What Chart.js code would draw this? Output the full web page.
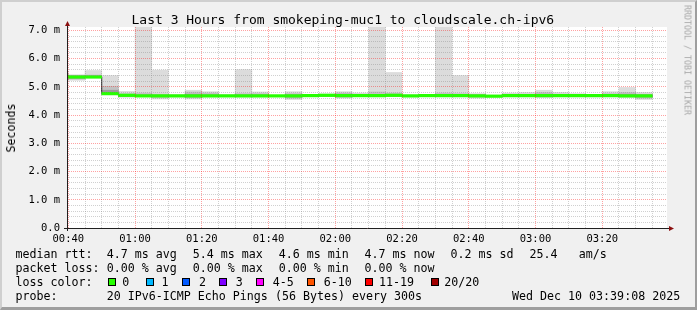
<!DOCTYPE html>
<html>
<head>
<meta charset="utf-8">
<script src="https://cdn.jsdelivr.net/npm/chart.js@4.4.1/dist/chart.umd.min.js"></script>
<style>
  body { margin: 0; width: 697px; height: 310px; overflow: hidden; background: #f0f0f0;
         font-family: 'DejaVu Sans Mono', monospace; color: #000; position: relative; }
  #frame { position: absolute; left: 0; top: 0; width: 697px; height: 310px; box-sizing: border-box;
           border-top: 2px solid #cfcfcf; border-left: 2px solid #cfcfcf;
           border-right: 2px solid #9e9e9e; border-bottom: 3px solid #9e9e9e; }
  #chart { position: absolute; left: 0; top: 0; }
  .t { position: absolute; white-space: pre; font-size: 11.65px; line-height: 14px; }
  #title { position: absolute; left: 131.5px; top: 13px; font-size: 13px; line-height: 13px; white-space: pre; }
  #ylabel { position: absolute; left: 10.5px; top: 127.5px; font-size: 11.65px; line-height: 14px;
            transform: translate(-50%, -50%) rotate(-90deg); white-space: pre; }
  #credit { position: absolute; left: 687px; top: 60px; font-size: 8.3px; line-height: 9px; color: #a8a8a8;
            transform: translate(-50%, -50%) rotate(90deg); white-space: pre; }
  .box { position: absolute; top: 278px; width: 8px; height: 8px; box-sizing: border-box; border: 1px solid #000; }
</style>
</head>
<body>
<div id="frame"></div>
<canvas id="chart" width="697" height="310"></canvas>
<div id="title">Last 3 Hours from smokeping-muc1 to cloudscale.ch-ipv6</div>
<div id="ylabel">Seconds</div>
<div id="credit">RRDTOOL / TOBI OETIKER</div>

<div class="t" style="left:15.5px;top:247px">median rtt:</div>
<div class="t" style="left:106.7px;top:247px">4.7 ms avg</div>
<div class="t" style="left:192.7px;top:247px">5.4 ms max</div>
<div class="t" style="left:278.7px;top:247px">4.6 ms min</div>
<div class="t" style="left:364.5px;top:247px">4.7 ms now</div>
<div class="t" style="left:450.5px;top:247px">0.2 ms sd</div>
<div class="t" style="left:529.5px;top:247px">25.4</div>
<div class="t" style="left:578.8px;top:247px">am/s</div>

<div class="t" style="left:15.5px;top:261px">packet loss:</div>
<div class="t" style="left:106.7px;top:261px">0.00 % avg</div>
<div class="t" style="left:192.7px;top:261px">0.00 % max</div>
<div class="t" style="left:278.7px;top:261px">0.00 % min</div>
<div class="t" style="left:364.5px;top:261px">0.00 % now</div>

<div class="t" style="left:15.5px;top:275px">loss color:</div>
<div id="lossLegend"></div>

<div class="t" style="left:15.5px;top:289px">probe:</div>
<div class="t" style="left:106.7px;top:289px">20 IPv6-ICMP Echo Pings (56 Bytes) every 300s</div>
<div class="t" style="left:512px;top:289px">Wed Dec 10 03:39:08 2025</div>

<script>
// 5 minute bins (start time), the first one is only partly visible
const binTimes = ['00:35','00:40','00:45','00:50','00:55','01:00','01:05','01:10','01:15','01:20','01:25','01:30',
                  '01:35','01:40','01:45','01:50','01:55','02:00','02:05','02:10','02:15','02:20','02:25','02:30',
                  '02:35','02:40','02:45','02:50','02:55','03:00','03:05','03:10','03:15','03:20','03:25','03:30'];

// median rtt in ms
const medianRtt = [5.37, 5.35, 5.35, 4.76, 4.70, 4.68, 4.68, 4.68, 4.68, 4.68, 4.68, 4.68,
                   4.68, 4.68, 4.68, 4.69, 4.70, 4.69, 4.69, 4.69, 4.70, 4.68, 4.69, 4.69,
                   4.69, 4.68, 4.67, 4.69, 4.69, 4.69, 4.69, 4.69, 4.69, 4.69, 4.68, 4.68];

// packet loss per bin (pings lost out of 20)
const lossCount = [0,0,0,0,0,0,0,0,0,0,0,0,0,0,0,0,0,0,0,0,0,0,0,0,0,0,0,0,0,0,0,0,0,0,0,0];

// smoke: fastest / slowest ping
const smokeMin = [5.24, 5.23, 5.31, 4.72, 4.63, 4.65, 4.57, 4.64, 4.57, 4.64, 4.65, 4.64,
                  4.64, 4.65, 4.55, 4.65, 4.66, 4.60, 4.65, 4.64, 4.65, 4.64, 4.65, 4.64,
                  4.64, 4.60, 4.64, 4.64, 4.64, 4.62, 4.64, 4.64, 4.64, 4.64, 4.62, 4.55];
const smokeMax = [5.55, 5.43, 5.58, 5.40, 4.84, 8.60, 5.59, 4.72, 4.88, 4.83, 4.72, 5.61,
                  4.82, 4.70, 4.83, 4.72, 4.75, 4.83, 4.78, 8.20, 5.51, 4.72, 4.72, 7.90,
                  5.40, 4.76, 4.69, 4.78, 4.80, 4.88, 4.80, 4.76, 4.73, 4.83, 4.98, 4.80];
// smoke: middle band of pings
const smokeLo2 = [5.28, 5.27, 5.33, 4.73, 4.65, 4.66, 4.62, 4.66, 4.62, 4.65, 4.66, 4.65,
                  4.65, 4.66, 4.60, 4.66, 4.67, 4.63, 4.66, 4.66, 4.66, 4.66, 4.66, 4.66,
                  4.66, 4.64, 4.65, 4.66, 4.66, 4.64, 4.66, 4.66, 4.66, 4.66, 4.65, 4.60];
const smokeHi2 = [5.44, 5.40, 5.42, 5.02, 4.76, 4.78, 4.74, 4.71, 4.82, 4.78, 4.71, 4.76,
                  4.76, 4.69, 4.76, 4.71, 4.73, 4.78, 4.74, 4.82, 4.78, 4.70, 4.71, 4.78,
                  4.76, 4.73, 4.68, 4.74, 4.74, 4.80, 4.74, 4.72, 4.71, 4.76, 4.80, 4.74];
// smoke: inner band close to the median
const smokeLo3 = [5.30, 5.30, 5.33, 4.74, 4.67, 4.67, 4.66, 4.67, 4.64, 4.66, 4.67, 4.66,
                  4.66, 4.67, 4.64, 4.67, 4.68, 4.65, 4.67, 4.67, 4.68, 4.66, 4.67, 4.67,
                  4.67, 4.66, 4.66, 4.67, 4.67, 4.66, 4.67, 4.67, 4.67, 4.67, 4.66, 4.64];
const smokeHi3 = [5.40, 5.38, 5.38, 4.88, 4.73, 4.72, 4.71, 4.70, 4.74, 4.72, 4.70, 4.72,
                  4.72, 4.69, 4.72, 4.71, 4.72, 4.74, 4.72, 4.73, 4.73, 4.69, 4.70, 4.73,
                  4.72, 4.71, 4.68, 4.72, 4.72, 4.74, 4.72, 4.71, 4.70, 4.72, 4.74, 4.72];

// x axis labels (every 20 minutes from 00:40)
const xLabels = ['00:40','01:00','01:20','01:40','02:00','02:20','02:40','03:00','03:20'];

// loss colour legend
const lossLabels = ['0', '1', '2', '3', '4-5', '6-10', '11-19', '20/20'];
const lossColors = ['#26ff00', '#00b8ff', '#0059ff', '#7e00ff', '#ff00fe', '#ff5500', '#ff0000', '#a10000'];
const lossUpper  = [0, 1, 2, 3, 5, 10, 19, 20];

// legend layout
const lossBoxX   = [108, 145.5, 182, 219, 256, 307, 365, 430.5];
const lossLabelX = [122.3, 161.5, 199, 235.7, 272.8, 323.8, 379, 444.3];

const legend = document.getElementById('lossLegend');
lossLabels.forEach((lab, i) => {
  const b = document.createElement('div');
  b.className = 'box';
  b.style.left = lossBoxX[i] + 'px';
  b.style.background = lossColors[i];
  legend.appendChild(b);
  const t = document.createElement('div');
  t.className = 't';
  t.style.left = lossLabelX[i] + 'px';
  t.style.top = '275px';
  t.textContent = lab;
  legend.appendChild(t);
});

// minutes relative to 00:40
const toMin = (s) => {
  const [h, m] = s.split(':').map(Number);
  return h * 60 + m - 40;
};
const binStart = binTimes.map(toMin);
const binMid = binStart.map(v => v + 2.5);
const lossColor = (n) => lossColors[lossUpper.findIndex(u => n <= u)];

const floatBars = (lo, hi, color, order) => ({
  type: 'bar',
  data: binMid.map((x, i) => ({ x: x, y: [lo[i], hi[i]] })),
  backgroundColor: color,
  borderWidth: 0,
  grouped: false,
  barPercentage: 1,
  categoryPercentage: 1,
  order: order,
  clip: 0
});

// median step line (black) under the loss coloured band
const medianLine = binStart.map((x, i) => ({ x: x, y: medianRtt[i] }));
medianLine.push({ x: binStart[binStart.length - 1] + 5, y: medianRtt[medianRtt.length - 1] });

const GRID = 'rgba(128,128,128,0.37)';
const MGRID = 'rgba(255,0,0,0.37)';

const frameBits = {
  id: 'frameBits',
  beforeDraw(chart) {
    const { ctx, chartArea: a } = chart;
    ctx.save();
    ctx.fillStyle = '#ffffff';
    ctx.fillRect(a.left, a.top, a.right - a.left, a.bottom - a.top);
    ctx.restore();
  },
  afterDraw(chart) {
    const { ctx, chartArea: a } = chart;
    ctx.save();
    ctx.strokeStyle = '#202020';
    ctx.lineWidth = 1;
    ctx.beginPath();
    ctx.moveTo(a.left - 3, a.bottom + 0.5);
    ctx.lineTo(a.right + 4, a.bottom + 0.5);
    ctx.moveTo(a.left + 0.5, a.bottom + 3);
    ctx.lineTo(a.left + 0.5, a.top - 3);
    ctx.stroke();
    ctx.fillStyle = '#8b1010';
    ctx.beginPath();
    ctx.moveTo(a.right + 2, a.bottom - 2);
    ctx.lineTo(a.right + 7, a.bottom + 0.5);
    ctx.lineTo(a.right + 2, a.bottom + 3);
    ctx.fill();
    ctx.beginPath();
    ctx.moveTo(a.left - 2, a.top - 1);
    ctx.lineTo(a.left + 0.5, a.top - 6);
    ctx.lineTo(a.left + 3, a.top - 1);
    ctx.fill();
    ctx.restore();
  }
};

const tickFont = { family: 'DejaVu Sans Mono', size: 10.5 };

new Chart(document.getElementById('chart'), {
  type: 'bar',
  data: {
    datasets: [
      {
        type: 'bar',
        data: binMid.map((x, i) => ({ x: x, y: [medianRtt[i] - 0.045, medianRtt[i] + 0.045] })),
        backgroundColor: lossCount.map(lossColor),
        borderWidth: 0,
        grouped: false,
        barPercentage: 1,
        categoryPercentage: 1,
        order: 0,
        clip: 0
      },
      {
        type: 'line',
        data: medianLine,
        stepped: true,
        borderColor: '#202020',
        borderWidth: 1,
        pointRadius: 0,
        fill: false,
        order: 1,
        clip: 0
      },
      floatBars(smokeLo3, smokeHi3, '#9c9c9c', 2),
      floatBars(smokeLo2, smokeHi2, '#c2c2c2', 3),
      floatBars(smokeMin, smokeMax, '#dcdcdc', 4)
    ]
  },
  options: {
    responsive: false,
    devicePixelRatio: 1,
    animation: false,
    layout: { padding: { left: 0, right: 30, top: 27, bottom: 0 } },
    plugins: { legend: { display: false }, tooltip: { enabled: false } },
    scales: {
      x: {
        type: 'linear',
        min: -0.4,
        max: 179.4,
        offset: false,
        afterFit: (s) => { s.height = 82; },
        afterBuildTicks: (s) => {
          const t = [];
          for (let v = 0; v <= 175; v += 5) t.push({ value: v });
          s.ticks = t;
        },
        ticks: {
          autoSkip: false,
          maxRotation: 0,
          padding: 5,
          color: '#000',
          font: tickFont,
          callback: (v) => (v % 20 === 0 ? xLabels[v / 20] || '' : '')
        },
        grid: {
          offset: false,
          z: 1,
          drawTicks: false,
          lineWidth: 1,
          borderDash: [1, 1],
          color: (c) => (c.tick && c.tick.value % 20 === 0 ? MGRID : GRID)
        },
        border: { display: false, dash: [1, 1] }
      },
      y: {
        min: 0,
        max: 7.12,
        afterFit: (s) => { s.width = 67; },
        afterBuildTicks: (s) => {
          const t = [];
          for (let i = 0; i <= 35; i++) t.push({ value: i / 5 });
          s.ticks = t;
        },
        ticks: {
          autoSkip: false,
          padding: 7,
          color: '#000',
          font: tickFont,
          callback: (v) => {
            if (Math.abs(v - Math.round(v)) > 1e-6) return '';
            return v === 0 ? '0.0' : v.toFixed(1) + ' m';
          }
        },
        grid: {
          z: 1,
          drawTicks: false,
          lineWidth: 1,
          borderDash: [1, 1],
          color: (c) => (c.tick && Math.abs(c.tick.value - Math.round(c.tick.value)) < 1e-6 ? MGRID : GRID)
        },
        border: { display: false, dash: [1, 1] }
      }
    }
  },
  plugins: [frameBits]
});
</script>
</body>
</html>
